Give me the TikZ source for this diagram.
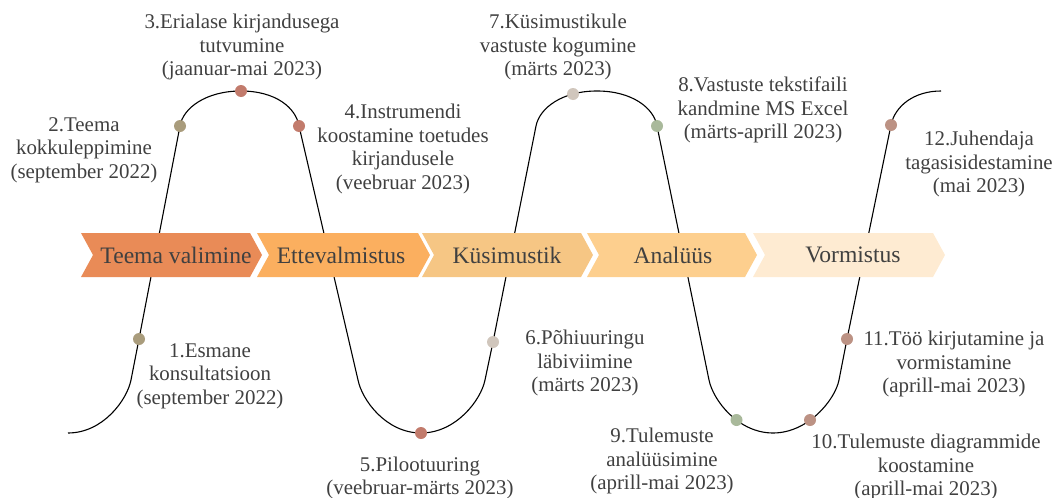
\documentclass[tikz,border=0pt]{standalone}
\usepackage{fontspec}
\setmainfont{Liberation Serif}
\definecolor{txtgray}{HTML}{404040}
\definecolor{phA}{HTML}{E98B57}
\definecolor{phB}{HTML}{FBAF5F}
\definecolor{phC}{HTML}{F6C684}
\definecolor{phD}{HTML}{FDCF8E}
\definecolor{phE}{HTML}{FEEBD2}
\definecolor{dKhaki}{HTML}{A99C7C}
\definecolor{dRose}{HTML}{C27B6C}
\definecolor{dGrey}{HTML}{D0C6BC}
\definecolor{dGreen}{HTML}{A9B99B}
\definecolor{dMauve}{HTML}{BC9284}
\tikzset{
  lbl/.style={align=center, text=txtgray, inner sep=0pt,
    font=\fontsize{20.9}{23.5}\selectfont},
  phase/.style={text=txtgray, inner sep=0pt,
    font=\fontsize{23.6}{28}\selectfont},
  dot/.style={circle, inner sep=0pt, minimum size=12pt},
}
\begin{document}
\begin{tikzpicture}[x=1pt,y=-1pt]
  \useasboundingbox (0,0) rectangle (1058,498);
  % points on the wave
  \coordinate (s) at (68,433);
  \coordinate (d1) at (139,339);
  \coordinate (d2) at (180,126);
  \coordinate (d3) at (241,91);
  \coordinate (d4) at (299,126);
  \coordinate (d5) at (421,433);
  \coordinate (d6) at (493,342);
  \coordinate (d7) at (573,94);
  \coordinate (d8) at (657,126);
  \coordinate (d9) at (736.5,420);
  \coordinate (d10) at (810,420);
  \coordinate (d11) at (847,339);
  \coordinate (d12) at (891,125);
  \coordinate (e) at (941,91);
  \draw[line width=1.1pt]
    (s) .. controls (103,433) and (127,400) .. (131,380) -- (d1) -- (d2)
    .. controls (183,108) and (206,91) .. (d3)
    .. controls (276,91) and (296,108) .. (d4) -- (358,380)
    .. controls (362,400) and (386,433) .. (d5)
    .. controls (456,433) and (481,400) .. (485,380) -- (d6) -- (536,126)
    .. controls (539.6,108) and (562,91) .. (597,91)
    .. controls (632,91) and (654,108) .. (d8) -- (709,380)
    .. controls (713,400) and (738,433) .. (773,433)
    .. controls (808,433) and (835,400) .. (839,380) -- (d11) -- (d12)
    .. controls (895,106) and (914,91) .. (e);
  % phases
  \foreach \x/\w/\tx/\col/\txt [count=\i] in
    {81/181/176/phA/Teema valimine, 257/173/341/phB/Ettevalmistus,
     422/171/507/phC/Küsimustik, 587/170/673/phD/Analüüs,
     753/192/853/phE/Vormistus}{
    \fill[\col] (\x,233) -- (\x+\w-12,233) -- (\x+\w,255)
      -- (\x+\w-12,277) -- (\x,277) -- (\x+12,255) -- cycle;
    \node[phase] (p\i) at (\tx,255) {\txt};
  }
  % dots
  \node[dot, fill=dKhaki] (dot1) at (d1) {};
  \node[dot, fill=dKhaki] (dot2) at (d2) {};
  \node[dot, fill=dRose] (dot3) at (d3) {};
  \node[dot, fill=dRose] (dot4) at (d4) {};
  \node[dot, fill=dRose] (dot5) at (d5) {};
  \node[dot, fill=dGrey] (dot6) at (d6) {};
  \node[dot, fill=dGrey] (dot7) at (d7) {};
  \node[dot, fill=dGreen] (dot8) at (d8) {};
  \node[dot, fill=dGreen] (dot9) at (d9) {};
  \node[dot, fill=dMauve] (dot10) at (d10) {};
  \node[dot, fill=dMauve] (dot11) at (d11) {};
  \node[dot, fill=dMauve] (dot12) at (d12) {};
  % labels
  \node[lbl] (l1) at (210,376) {1.Esmane\\konsultatsioon\\(september 2022)};
  \node[lbl] (l2) at (84,150) {2.Teema\\kokkuleppimine\\(september 2022)};
  \node[lbl] (l3) at (242,47) {3.Erialase kirjandusega\\tutvumine\\(jaanuar-mai 2023)};
  \node[lbl] (l4) at (403,149) {4.Instrumendi\\koostamine toetudes\\kirjandusele\\(veebruar 2023)};
  \node[lbl] (l5) at (420,478) {5.Pilootuuring\\(veebruar-märts 2023)};
  \node[lbl] (l6) at (585,363) {6.Põhiuuringu\\läbiviimine\\(märts 2023)};
  \node[lbl] (l7) at (558,47) {7.Küsimustikule\\vastuste kogumine\\(märts 2023)};
  \node[lbl] (l8) at (763,110) {8.Vastuste tekstifaili\\kandmine MS Excel\\(märts-aprill 2023)};
  \node[lbl] (l9) at (662,461) {9.Tulemuste\\analüüsimine\\(aprill-mai 2023)};
  \node[lbl] (l10) at (926,467) {10.Tulemuste diagrammide\\koostamine\\(aprill-mai 2023)};
  \node[lbl] (l11) at (954,364) {11.Töö kirjutamine ja\\vormistamine\\(aprill-mai 2023)};
  \node[lbl] (l12) at (979,164) {12.Juhendaja\\tagasisidestamine\\(mai 2023)};
\end{tikzpicture}
\end{document}
